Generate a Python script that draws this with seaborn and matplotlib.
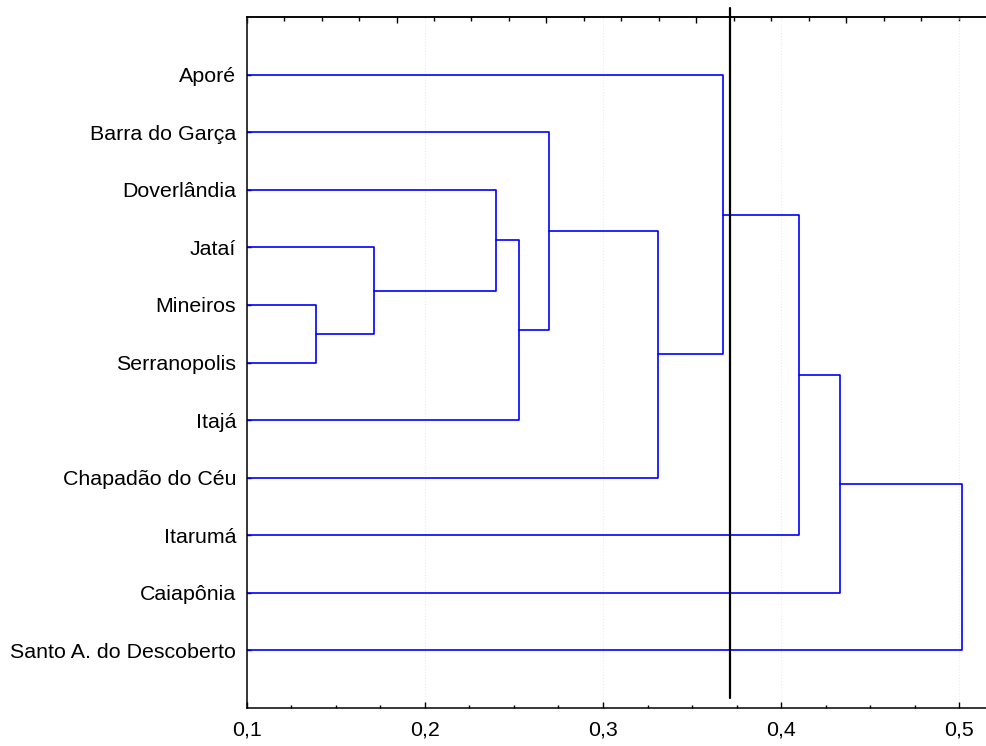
import numpy as np
import pandas as pd
import matplotlib
matplotlib.use("Agg")
import matplotlib.pyplot as plt
from matplotlib.ticker import MultipleLocator, FuncFormatter, FixedLocator
import seaborn as sns

# leaves, top to bottom
leaves = ["Aporé", "Barra do Garça", "Doverlândia", "Jataí", "Mineiros",
          "Serranopolis", "Itajá", "Chapadão do Céu", "Itarumá", "Caiapônia",
          "Santo A. do Descoberto"]

# joins in order: cluster k is named "c<k>" (1-based)
merge_left = ["Mineiros", "Jataí", "Doverlândia", "c3", "Barra do Garça",
              "c5", "Aporé", "c7", "c8", "c9"]
merge_right = ["Serranopolis", "c1", "c2", "Itajá", "c4",
               "Chapadão do Céu", "c6", "Itarumá", "Caiapônia",
               "Santo A. do Descoberto"]
merge_height = [0.139, 0.1716, 0.2398, 0.2527, 0.2698,
                0.3308, 0.3673, 0.4103, 0.4333, 0.5016]

cut_height = 0.3714

####################################################################################
## build the link segments (scipy style: parent sits at mean of children)
####################################################################################
pos = {name: i + 1 for i, name in enumerate(leaves)}
hgt = {name: 0.0 for name in leaves}

rows = []
for k in range(len(merge_height)):
    a, b, h = merge_left[k], merge_right[k], merge_height[k]
    ya, yb = pos[a], pos[b]
    rows.append((k, hgt[a], ya))
    rows.append((k, h, ya))
    rows.append((k, h, yb))
    rows.append((k, hgt[b], yb))
    name = "c" + str(k + 1)
    pos[name] = (ya + yb) / 2
    hgt[name] = h

links = pd.DataFrame(rows, columns=["link", "x", "y"])

####################################################################################
## plot
####################################################################################
sns.set_style("ticks")
plt.rcParams["font.family"] = ["Liberation Sans", "DejaVu Sans"]

fig = plt.figure(figsize=(9.86, 7.46), dpi=100)
ax = fig.add_axes([0.2502, 0.0509, 0.7498, 0.9263])

sns.lineplot(data=links, x="x", y="y", units="link", estimator=None,
             sort=False, color="#0000ff", linewidth=1.2, legend=False, ax=ax)

ax.axvline(cut_height, ymin=0.015, ymax=1.013, color="black",
           linewidth=1.6, clip_on=False, zorder=5)

ax.set_xlim(0.1, 0.515)
ax.set_ylim(12, 0)
ax.set_xlabel("")
ax.set_ylabel("")

ax.set_yticks(range(1, len(leaves) + 1))
ax.set_yticklabels(leaves)

ax.xaxis.set_major_locator(MultipleLocator(0.1))
ax.xaxis.set_minor_locator(MultipleLocator(0.025))
ax.xaxis.set_major_formatter(FuncFormatter(lambda v, p: f"{v:.1f}".replace(".", ",")))

ax.tick_params(axis="x", which="major", direction="in", length=4, width=1,
               pad=9, labelsize=15.4, colors="black", labelcolor="black")
ax.tick_params(axis="x", which="minor", direction="in", length=2.5, width=1,
               colors="black")
ax.tick_params(axis="y", direction="in", length=3, width=1, pad=7.5,
               labelsize=15.4, colors="black", labelcolor="black")

ax.grid(axis="x", which="major", color="#ebebeb", linestyle=":", linewidth=0.8)

# top axis with its own tick spacing
top_step = 0.02103
top = ax.secondary_xaxis("top")
top.xaxis.set_major_locator(FixedLocator(np.arange(0.1, 0.515, top_step * 4)))
top.xaxis.set_minor_locator(FixedLocator(np.arange(0.1, 0.515, top_step)))
top.tick_params(axis="x", which="major", direction="in", length=4, width=1,
                labeltop=False, labelbottom=False, colors="black")
top.tick_params(axis="x", which="minor", direction="in", length=3, width=1,
                colors="black")
top.spines["top"].set_linewidth(1.1)
top.spines["top"].set_color("black")

for s in ["left", "bottom", "top"]:
    ax.spines[s].set_linewidth(1.1)
    ax.spines[s].set_color("black")
ax.spines["right"].set_visible(False)

fig.savefig("out.png", dpi=100)
